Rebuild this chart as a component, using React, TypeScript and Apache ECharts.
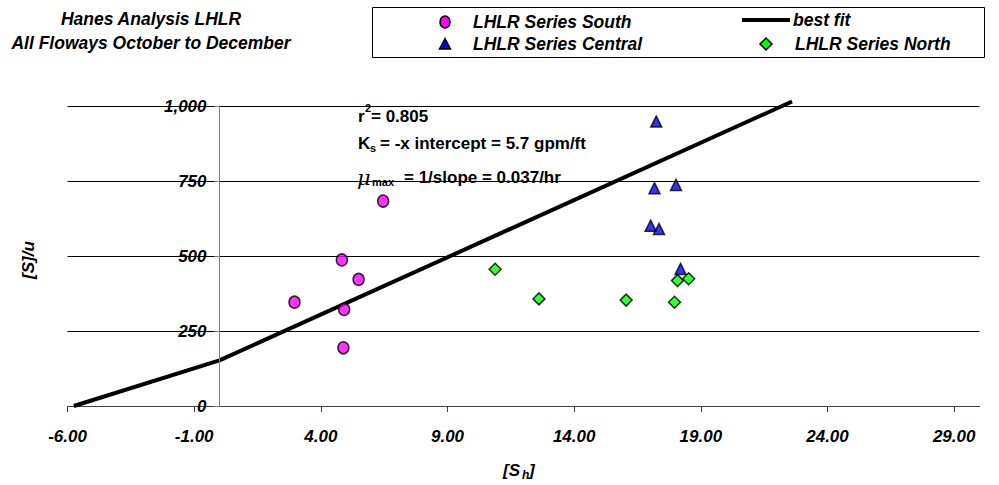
import React, { useEffect, useRef } from "react";
import * as echarts from "echarts";

// ---- data ----
const xTickValues = [-6, -1, 4, 9, 14, 19, 24, 29];
const yTickValues = [0, 250, 500, 750, 1000];

const southX = [2.96, 4.83, 5.49, 4.92, 4.89, 6.46];
const southY = [346, 487, 422, 322, 194, 683];

const centralX = [17.24, 17.17, 18.02, 17.02, 17.35, 18.2];
const centralY = [948, 726, 737, 601, 590, 457];

const northX = [10.88, 12.61, 16.05, 17.96, 18.08, 18.52];
const northY = [456, 357, 353, 346, 418, 424];

const fitX = [-5.75, 0, 22.6];
const fitY = [0, 152, 1015];

const titleLines = ["Hanes Analysis LHLR", "All Floways October to December"];
const legendNames = ["LHLR Series South", "LHLR Series Central", "LHLR Series North", "best fit"];

const FONT = "'Liberation Sans', Arial, Helvetica, sans-serif";

const X_MIN = -6;
const X_MAX = 30;
const Y_MIN = 0;
const Y_MAX = 1000;
const GRID_LEFT = 67.5;
const GRID_W = 912;
const GRID_TOP = 106;
const GRID_BOTTOM = 79;
const CHART_W = 999;
const CHART_H = 485;
const GRID_RIGHT = CHART_W - GRID_LEFT - GRID_W;

const zip = (xs: number[], ys: number[]) => xs.map((x, i) => [x, ys[i]]);

function txt(
  x: number,
  y: number,
  text: string,
  opts: {
    size?: number;
    weight?: string;
    italic?: boolean;
    align?: string;
    family?: string;
    rotation?: number;
  } = {}
) {
  const align = opts.align || "left";
  return {
    type: "text",
    x,
    y,
    rotation: opts.rotation || 0,
    z: 100,
    style: {
      text,
      fill: "#000",
      fontSize: opts.size || 17,
      fontWeight: opts.weight || "bold",
      fontStyle: opts.italic ? "italic" : "normal",
      fontFamily: opts.family || FONT,
      align,
      textAlign: align,
      verticalAlign: "middle",
      textVerticalAlign: "middle",
    },
  };
}

export default function App() {
  const ref = useRef<HTMLDivElement>(null);

  useEffect(() => {
    if (!ref.current) return;
    const chart = echarts.init(ref.current, undefined, { renderer: "svg" });

    const labelStyle = {
      fontSize: 17,
      fontWeight: "bold",
      fontStyle: "italic",
      fontFamily: FONT,
      color: "#000",
    };

    const markerBorder = { borderColor: "#000", borderWidth: 1.5 };

    // the y axis sits at x = 0 of the x scale
    const zeroFrac = (0 - X_MIN) / (X_MAX - X_MIN);
    const yAxisOffset = -zeroFrac * GRID_W;
    const zeroPx = Math.floor(GRID_LEFT + zeroFrac * GRID_W);
    const plotH = CHART_H - GRID_TOP - GRID_BOTTOM;

    const graphics: any[] = [
      // y axis line at x = 0
      {
        type: "rect",
        shape: { x: zeroPx, y: GRID_TOP, width: 1, height: plotH },
        style: { fill: "#808080" },
        z: 200,
        silent: true,
      },
      // titles
      txt(151, 19, titleLines[0], { italic: true, align: "center", size: 17.5 }),
      txt(151, 43, titleLines[1], { italic: true, align: "center", size: 17.5 }),
      // legend box
      {
        type: "rect",
        shape: { x: 372.5, y: 7.5, width: 612, height: 50 },
        style: { fill: "none", stroke: "#000", lineWidth: 1 },
        z: 90,
      },
      {
        type: "ellipse",
        shape: { cx: 445, cy: 22, rx: 5, ry: 6 },
        style: { fill: "#FF00FF", stroke: "#000", lineWidth: 1.5 },
        z: 100,
      },
      {
        type: "polygon",
        shape: { points: [[445, 38.5], [450.5, 49], [439.5, 49]] },
        style: { fill: "#0000FF", stroke: "#000", lineWidth: 1.5 },
        z: 100,
      },
      {
        type: "polygon",
        shape: { points: [[766, 38], [772, 44], [766, 50], [760, 44]] },
        style: { fill: "#00FF00", stroke: "#000", lineWidth: 1.5 },
        z: 100,
      },
      {
        type: "line",
        shape: { x1: 742, y1: 20, x2: 790, y2: 20 },
        style: { stroke: "#000", lineWidth: 4 },
        z: 100,
      },
      txt(473, 22, legendNames[0], { italic: true, size: 17.5 }),
      txt(473, 44, legendNames[1], { italic: true, size: 17.5 }),
      txt(793, 20, legendNames[3], { italic: true, size: 17.5 }),
      txt(795, 44, legendNames[2], { italic: true, size: 17.5 }),
      // annotations
      txt(358, 116, "r", {}),
      txt(365, 108, "2", { size: 11 }),
      txt(371, 116, "= 0.805", {}),
      txt(358, 143, "K", {}),
      txt(370, 148, "s", { size: 11 }),
      txt(380, 143, "= -x intercept = 5.7 gpm/ft", {}),
      txt(357, 178, "\u03bc", { size: 21, weight: "normal", italic: true, family: "'DejaVu Serif', serif" }),
      txt(372, 182, "max", { size: 11 }),
      txt(404, 177, "= 1/slope = 0.037/hr", {}),
      // axis names
      txt(503, 470, "[S", { italic: true }),
      txt(522, 475, "h", { size: 12, italic: true }),
      txt(529, 470, "]", { italic: true }),
      txt(28, 260, "[S]/u", { italic: true, align: "center", rotation: Math.PI / 2 }),
    ];

    const option: any = {
      animation: false,
      backgroundColor: "#fff",
      grid: {
        left: GRID_LEFT,
        right: GRID_RIGHT,
        top: GRID_TOP,
        bottom: GRID_BOTTOM,
        containLabel: false,
      },
      xAxis: {
        type: "value",
        min: X_MIN,
        max: X_MAX,
        axisLine: { show: true, onZero: false, lineStyle: { color: "#404040", width: 1 } },
        axisTick: {
          show: true,
          length: 6,
          customValues: xTickValues,
          lineStyle: { color: "#404040" },
        },
        axisLabel: {
          ...labelStyle,
          margin: 22,
          customValues: xTickValues,
          formatter: (v: number) => v.toFixed(2),
        },
        splitLine: { show: false },
      },
      yAxis: [
        {
          type: "value",
          min: Y_MIN,
          max: Y_MAX,
          interval: 250,
          axisLine: { show: true, onZero: true, lineStyle: { color: "#808080", width: 1 } },
          axisTick: { show: false },
          axisLabel: { show: false },
          splitLine: { show: true, lineStyle: { color: "#000", width: 1 } },
        },
        {
          type: "value",
          position: "left",
          min: Y_MIN,
          max: Y_MAX,
          interval: 250,
          offset: yAxisOffset,
          axisLine: { show: false, onZero: false },
          axisTick: { show: true, length: 5, lineStyle: { color: "#808080" } },
          axisLabel: {
            ...labelStyle,
            margin: 13,
            customValues: yTickValues,
            formatter: (v: number) => v.toLocaleString("en-US"),
          },
          splitLine: { show: false },
        },
      ],
      series: [
        {
          name: legendNames[3],
          type: "line",
          data: zip(fitX, fitY),
          symbol: "none",
          clip: false,
          z: 2,
          lineStyle: { color: "#000", width: 4 },
        },
        {
          name: legendNames[0],
          type: "scatter",
          data: zip(southX, southY),
          symbol: "circle",
          symbolSize: [11, 12],
          z: 5,
          itemStyle: { color: "#FF00FF", ...markerBorder },
        },
        {
          name: legendNames[1],
          type: "scatter",
          data: zip(centralX, centralY),
          symbol: "triangle",
          symbolSize: [11, 11],
          z: 5,
          itemStyle: { color: "#0000FF", ...markerBorder },
        },
        {
          name: legendNames[2],
          type: "scatter",
          data: zip(northX, northY),
          symbol: "diamond",
          symbolSize: [12, 12],
          z: 5,
          itemStyle: { color: "#00FF00", ...markerBorder },
        },
      ],
      graphic: graphics,
    };

    chart.setOption(option);
    return () => chart.dispose();
  }, []);

  return (
    <div
      ref={ref}
      style={{ position: "fixed", left: 0, top: 0, width: CHART_W, height: CHART_H, background: "#fff" }}
    />
  );
}
